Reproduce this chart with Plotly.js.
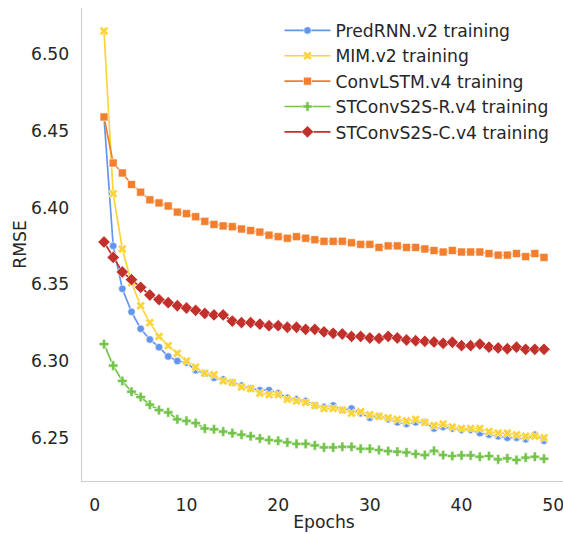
<!DOCTYPE html>
<html><head><meta charset="utf-8">
<script src="https://cdn.plot.ly/plotly-3.0.1.min.js"></script>
<style>html,body{margin:0;padding:0;overflow:hidden;background:#fff;width:563px;height:534px}</style>
</head><body>
<div id="chart" style="width:580px;height:534px"></div>
<script>
const epochs = Array.from({length: 49}, (_, i) => i + 1);
const seriesNames = ["PredRNN.v2 training", "MIM.v2 training", "ConvLSTM.v4 training", "STConvS2S-R.v4 training", "STConvS2S-C.v4 training"];
const predrnn = [6.459, 6.375, 6.347, 6.332, 6.321, 6.314, 6.309, 6.303, 6.300, 6.299, 6.294, 6.292, 6.289, 6.288, 6.286, 6.284, 6.282, 6.281, 6.281, 6.279, 6.276, 6.275, 6.274, 6.271, 6.270, 6.271, 6.268, 6.269, 6.266, 6.263, 6.264, 6.262, 6.260, 6.259, 6.260, 6.260, 6.256, 6.257, 6.256, 6.255, 6.255, 6.253, 6.252, 6.251, 6.250, 6.250, 6.249, 6.252, 6.248];
const mim = [6.515, 6.409, 6.373, 6.351, 6.336, 6.325, 6.316, 6.310, 6.305, 6.300, 6.296, 6.292, 6.291, 6.287, 6.286, 6.283, 6.282, 6.279, 6.278, 6.278, 6.275, 6.274, 6.273, 6.271, 6.269, 6.269, 6.268, 6.266, 6.267, 6.265, 6.264, 6.263, 6.262, 6.261, 6.262, 6.260, 6.258, 6.259, 6.257, 6.256, 6.256, 6.256, 6.254, 6.253, 6.253, 6.252, 6.251, 6.251, 6.250];
const convlstm = [6.459, 6.429, 6.4225, 6.415, 6.410, 6.405, 6.403, 6.401, 6.397, 6.396, 6.394, 6.391, 6.389, 6.388, 6.3875, 6.386, 6.385, 6.384, 6.382, 6.381, 6.380, 6.381, 6.380, 6.379, 6.378, 6.378, 6.378, 6.377, 6.376, 6.376, 6.374, 6.375, 6.375, 6.374, 6.374, 6.373, 6.372, 6.371, 6.372, 6.371, 6.371, 6.371, 6.370, 6.369, 6.369, 6.370, 6.368, 6.370, 6.3675];
const stR = [6.311, 6.297, 6.287, 6.280, 6.2765, 6.2715, 6.268, 6.2665, 6.262, 6.261, 6.2595, 6.256, 6.2555, 6.254, 6.253, 6.252, 6.251, 6.2495, 6.2485, 6.248, 6.247, 6.246, 6.246, 6.245, 6.2437, 6.2437, 6.2441, 6.2441, 6.2428, 6.2428, 6.242, 6.2413, 6.2409, 6.2404, 6.2394, 6.2387, 6.2415, 6.2387, 6.2381, 6.2385, 6.2385, 6.2376, 6.2381, 6.2359, 6.2366, 6.2355, 6.237, 6.2376, 6.2363];
const stC = [6.3775, 6.3675, 6.358, 6.353, 6.348, 6.343, 6.340, 6.338, 6.336, 6.3345, 6.333, 6.331, 6.330, 6.330, 6.326, 6.325, 6.325, 6.324, 6.323, 6.323, 6.322, 6.322, 6.3206, 6.3206, 6.319, 6.318, 6.3176, 6.316, 6.316, 6.315, 6.3147, 6.316, 6.315, 6.3137, 6.3132, 6.3128, 6.3124, 6.3115, 6.3122, 6.310, 6.310, 6.311, 6.309, 6.3085, 6.308, 6.309, 6.3076, 6.3076, 6.3076];
const yTicks = [6.25, 6.30, 6.35, 6.40, 6.45, 6.50];
const xTicks = [0, 10, 20, 30, 40, 50];

const allSeries = [predrnn, mim, convlstm, stR, stC];
const colors = ["#6495ED", "#FBD43A", "#F27F2E", "#74C44C", "#C1302B"];
const symbols = ["circle", "x", "square", "cross", "diamond"];
const sizes = [7.5, 8, 8, 8, 9.5];

const FONT = "DejaVu Sans, sans-serif";
const FS = 17.2;
const traces = allSeries.map((vals, i) => ({
  type: "scatter", mode: "lines+markers",
  x: epochs, y: vals, name: seriesNames[i], legendgroup: "g" + i,
  line: {color: colors[i], width: 1.7},
  marker: {symbol: symbols[i], size: sizes[i], color: colors[i], line: {color: "#ffffff", width: 0.6}}
}));

const layout = {
  width: 580, height: 534,
  margin: {l: 82, r: 14, t: 8, b: 53},
  paper_bgcolor: "#fff", plot_bgcolor: "#fff",
  font: {family: FONT, size: FS, color: "#262626"},
  showlegend: true,
  legend: {x: 0.408, y: 0.99, xanchor: "left", yanchor: "top", bgcolor: "rgba(0,0,0,0)",
           font: {family: FONT, size: FS, color: "#262626"}, tracegroupgap: 0, itemwidth: 46},
  xaxis: {range: [-1.4, 51.4], tickvals: xTicks, ticktext: xTicks.map(String), ticklabeloverflow: "allow",
          showgrid: false, zeroline: false, showline: true, linecolor: "#cccccc", linewidth: 1.3,
          ticks: "outside", ticklen: 8, tickcolor: "rgba(0,0,0,0)",
          title: {text: "Epochs", font: {family: FONT, size: FS, color: "#262626"}, standoff: 2}},
  yaxis: {range: [6.2218, 6.530], tickvals: yTicks, ticktext: yTicks.map(v => v.toFixed(2)),
          showgrid: false, zeroline: false, showline: true, linecolor: "#cccccc", linewidth: 1.3,
          ticks: "outside", ticklen: 8, tickcolor: "rgba(0,0,0,0)",
          title: {text: "RMSE", font: {family: FONT, size: FS, color: "#262626"}, standoff: 0}}
};
Plotly.newPlot("chart", traces, layout, {displayModeBar: false, staticPlot: true});
</script>
</body></html>
